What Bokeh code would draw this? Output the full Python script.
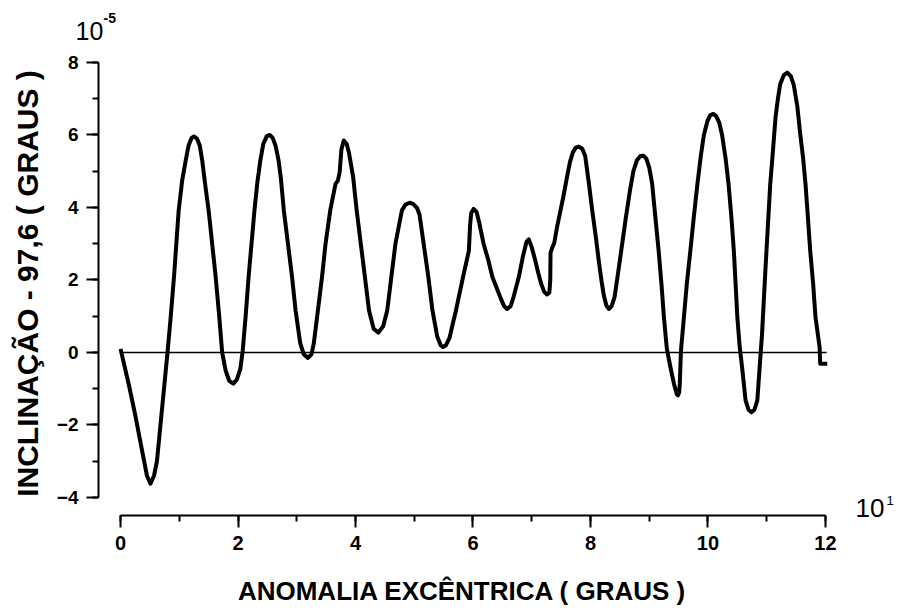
import math
from bokeh.plotting import figure
from bokeh.models import Range1d, SingleIntervalTicker, Label
from bokeh.embed import file_html
from bokeh.resources import INLINE

# ---- data (x in units of 10^1 degrees, y in units of 10^-5 degrees) ----
anomaly = [
    0.00, 0.05, 0.15, 0.25, 0.33, 0.40, 0.45, 0.51, 0.57, 0.62, 0.68, 0.74, 0.80,
    0.85, 0.91, 0.99, 1.05, 1.11, 1.16, 1.21, 1.25, 1.30, 1.35, 1.39, 1.44, 1.50,
    1.56, 1.62, 1.68, 1.73, 1.79, 1.85, 1.92, 1.98, 2.04, 2.08, 2.13, 2.18, 2.23,
    2.28, 2.33, 2.38, 2.43, 2.49, 2.54, 2.59, 2.64, 2.69, 2.73, 2.78, 2.85, 2.92,
    2.98, 3.06, 3.12, 3.19, 3.25, 3.29, 3.36, 3.43, 3.49, 3.57, 3.66, 3.70, 3.73,
    3.76, 3.80, 3.85, 3.89, 3.96, 4.02, 4.09, 4.16, 4.23, 4.31, 4.39, 4.47, 4.54,
    4.61, 4.68, 4.79, 4.85, 4.92, 4.98, 5.05, 5.09, 5.16, 5.24, 5.31, 5.39, 5.45,
    5.49, 5.54, 5.60, 5.65, 5.71, 5.83, 5.93, 5.95, 5.97, 6.01, 6.06, 6.11, 6.18,
    6.26, 6.33, 6.41, 6.47, 6.53, 6.58, 6.64, 6.69, 6.78, 6.85, 6.91, 6.95, 7.00,
    7.06, 7.11, 7.16, 7.21, 7.26, 7.30, 7.315, 7.32, 7.35, 7.38, 7.43, 7.49, 7.55,
    7.60, 7.65, 7.70, 7.75, 7.80, 7.86, 7.91, 7.97, 8.03, 8.09, 8.14, 8.19, 8.23,
    8.27, 8.31, 8.36, 8.41, 8.47, 8.54, 8.60, 8.67, 8.73, 8.79, 8.85, 8.90, 8.95,
    9.00, 9.05, 9.10, 9.16, 9.21, 9.25, 9.30, 9.36, 9.42, 9.47, 9.49, 9.51, 9.52,
    9.54, 9.59, 9.64, 9.70, 9.76, 9.82, 9.88, 9.93, 9.99, 10.04, 10.09, 10.14,
    10.19, 10.24, 10.30, 10.35, 10.40, 10.44, 10.47, 10.50, 10.54, 10.58, 10.64,
    10.69, 10.74, 10.79, 10.84, 10.88, 10.92, 10.98, 11.02, 11.06, 11.11, 11.15,
    11.19, 11.23, 11.29, 11.35, 11.41, 11.46, 11.52, 11.57, 11.62, 11.66, 11.70,
    11.74, 11.79, 11.83, 11.90, 11.91, 12.03,
]
inclination = [
    0.10, -0.25, -0.95, -1.72, -2.40, -2.98, -3.40, -3.62, -3.40, -3.00, -2.00, -1.00, 0.00,
    0.90, 2.08, 3.92, 4.75, 5.30, 5.72, 5.92, 5.96, 5.90, 5.70, 5.30, 4.65, 3.92,
    3.00, 2.08, 1.00, 0.00, -0.50, -0.78, -0.86, -0.75, -0.45, 0.05, 1.00, 2.08, 3.00,
    3.92, 4.70, 5.30, 5.75, 5.97, 6.00, 5.92, 5.70, 5.30, 4.80, 3.92, 3.00, 2.08,
    1.16, 0.25, -0.05, -0.15, -0.05, 0.25, 1.16, 2.08, 3.00, 3.92, 4.65, 4.74, 4.97,
    5.60, 5.85, 5.75, 5.50, 4.84, 3.92, 3.00, 2.08, 1.16, 0.65, 0.55, 0.72, 1.16,
    2.08, 3.00, 3.92, 4.08, 4.13, 4.10, 3.98, 3.80, 3.00, 2.08, 1.16, 0.45, 0.20,
    0.15, 0.20, 0.40, 0.75, 1.16, 2.08, 2.81, 3.50, 3.85, 3.96, 3.88, 3.55, 3.00,
    2.55, 2.08, 1.75, 1.50, 1.28, 1.20, 1.28, 1.53, 2.08, 2.65, 3.05, 3.12, 2.90,
    2.54, 2.20, 1.90, 1.68, 1.60, 1.65, 2.00, 2.75, 2.90, 3.00, 3.45, 3.92, 4.40,
    4.84, 5.25, 5.52, 5.65, 5.68, 5.62, 5.42, 4.70, 3.92, 3.20, 2.54, 1.95, 1.55,
    1.30, 1.20, 1.28, 1.53, 2.20, 3.00, 3.70, 4.45, 5.00, 5.30, 5.42, 5.43, 5.35,
    5.10, 4.65, 3.80, 2.81, 1.85, 0.97, 0.10, -0.40, -0.86, -1.15, -1.18, -1.10, -0.86,
    0.05, 0.97, 1.90, 2.81, 3.75, 4.65, 5.45, 6.00, 6.38, 6.55, 6.58, 6.52,
    6.35, 6.00, 5.35, 4.65, 3.70, 2.81, 1.90, 0.97, 0.15, -0.40, -1.32,
    -1.58, -1.65, -1.58, -1.32, -0.40, 0.51, 2.35, 3.50, 4.65, 5.65, 6.49,
    7.00, 7.41, 7.65, 7.72, 7.62, 7.38, 6.80, 6.03, 5.35, 4.65, 3.75,
    2.81, 1.90, 0.97, 0.15, -0.31, -0.31,
]
baseline_x = [0.0, 12.02]
baseline_y = [0.0, 0.0]

x_label = "ANOMALIA EXCÊNTRICA ( GRAUS )"
y_label = "INCLINAÇÃO - 97,6 ( GRAUS )"
y_scale_base, y_scale_exp = "10", "-5"
x_scale_base, x_scale_exp = "10", "1"

FONT = "Liberation Sans"

p = figure(
    width=896, height=613,
    x_range=Range1d(-2.043, 13.209), y_range=Range1d(-7.200, 9.710),
    output_backend="svg", toolbar_location=None,
    min_border_left=0, min_border_right=0, min_border_top=0, min_border_bottom=0,
)
p.outline_line_color = None
p.grid.visible = False
p.background_fill_color = "white"
p.border_fill_color = "white"

# axes, placed at fixed data locations (detached like the original)
p.xaxis.fixed_location = -4.497
p.yaxis.fixed_location = -0.3745
p.xaxis.ticker = SingleIntervalTicker(interval=2, num_minor_ticks=2)
p.yaxis.ticker = SingleIntervalTicker(interval=2, num_minor_ticks=2)
p.xaxis.bounds = (0, 12)
p.yaxis.bounds = (-4, 8)
for ax in (p.xaxis, p.yaxis):
    ax.axis_line_width = 2
    ax.axis_line_color = "black"
    ax.major_tick_line_width = 2
    ax.minor_tick_line_width = 2
    ax.major_tick_line_color = "black"
    ax.minor_tick_line_color = "black"
    ax.major_tick_in = 0
    ax.major_tick_out = 12
    ax.minor_tick_in = 0
    ax.minor_tick_out = 6
    ax.major_label_text_font = FONT
    ax.major_label_text_font_style = "bold"
    ax.major_label_text_color = "black"
p.xaxis.major_label_text_font_size = "20px"
p.yaxis.major_label_text_font_size = "19px"
p.xaxis.major_label_standoff = 8
p.yaxis.major_label_standoff = 8

# zero reference line and curve
p.line(baseline_x, baseline_y, line_color="black", line_width=1.5)
p.line(anomaly, inclination, line_color="black", line_width=4, line_join="round")

# axis titles
p.add_layout(Label(x=5.822, y=-6.566, text=x_label, text_align="center",
                   text_baseline="middle", text_font=FONT, text_font_size="26px",
                   text_font_style="bold", text_color="black"))
p.add_layout(Label(x=-1.583, y=1.903, text=y_label, text_align="center",
                   text_baseline="middle", angle=math.pi / 2, text_font=FONT,
                   text_font_size="30px", text_font_style="bold", text_color="black"))

# scale factor labels
p.add_layout(Label(x=-0.766, y=8.855, text=y_scale_base, text_baseline="middle",
                   text_font=FONT, text_font_size="25px", text_color="black"))
p.add_layout(Label(x=-0.289, y=9.241, text=y_scale_exp, text_baseline="middle",
                   text_font=FONT, text_font_size="14px", text_font_style="bold",
                   text_color="black"))
p.add_layout(Label(x=12.51, y=-4.276, text=x_scale_base, text_baseline="middle",
                   text_font=FONT, text_font_size="26px", text_color="black"))
p.add_layout(Label(x=13.04, y=-4.083, text=x_scale_exp, text_baseline="middle",
                   text_font=FONT, text_font_size="13px", text_color="black"))

open("out.html", "w").write(file_html(p, INLINE))
